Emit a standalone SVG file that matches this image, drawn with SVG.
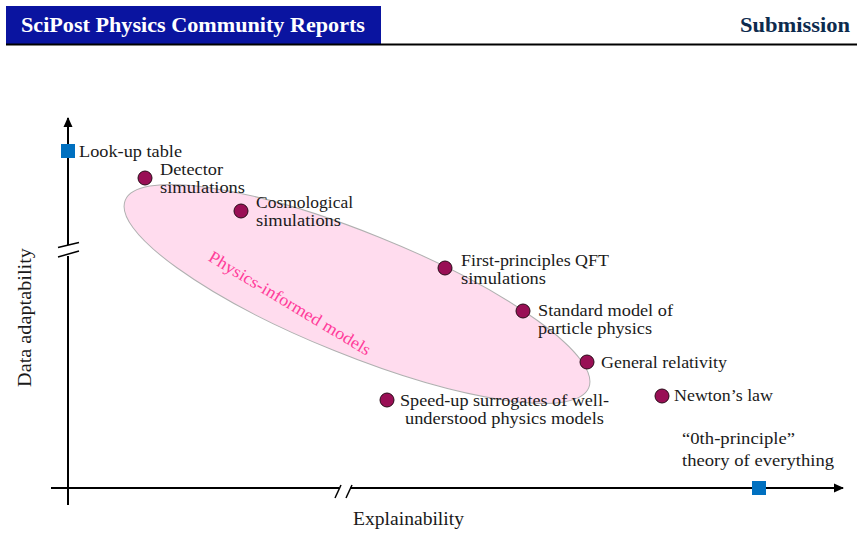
<svg xmlns="http://www.w3.org/2000/svg" width="863" height="535" viewBox="0 0 863 535">
<defs>
<style>
text{font-family:"Liberation Serif","DejaVu Serif",serif;font-size:16.3px;fill:#1a1a1a}
.hd{font-weight:bold;font-size:22px}
.big{font-size:19.5px}
.dot{fill:#990f55;stroke:#2a0a18;stroke-width:1}
.sq{fill:#0070c0}
.ax{stroke:#000;stroke-width:2;fill:none}
.brk{stroke:#000;stroke-width:1.5}
</style>
<marker id="arr" viewBox="0 0 10 10" refX="9" refY="5" markerWidth="10" markerHeight="10" markerUnits="userSpaceOnUse" orient="auto">
<path d="M0,0.5 L10,5 L0,9.5 z" fill="#000"/>
</marker>
</defs>
<rect width="863" height="535" fill="#fff"/>
<g id="header">
<rect x="6" y="6" width="375" height="38" fill="#0a14a0"/>
<text x="21" y="32" class="hd" style="fill:#fff" textLength="344" lengthAdjust="spacingAndGlyphs">SciPost Physics Community Reports</text>
<text x="850" y="32" class="hd" text-anchor="end" style="fill:#0d2b4e" textLength="110" lengthAdjust="spacingAndGlyphs">Submission</text>
<line x1="6" y1="44.5" x2="857" y2="44.5" stroke="#000" stroke-width="2"/>
</g>
<g id="ellipse">
<ellipse cx="357" cy="294" rx="250" ry="61" transform="rotate(22 357 294)" fill="#ffdcee" stroke="#b0b0b0" stroke-width="1"/>
<text x="287" y="308" transform="rotate(31 287 308)" text-anchor="middle" style="fill:#ff3d9a;font-size:17px" textLength="186" lengthAdjust="spacingAndGlyphs">Physics-informed models</text>
</g>
<g id="connectors">
<line class="ax" x1="68" y1="505" x2="68" y2="256" />
<line class="ax" x1="68" y1="245" x2="68" y2="118" marker-end="url(#arr)"/>
<line class="brk" x1="58" y1="247.5" x2="79" y2="242.5"/>
<line class="brk" x1="58" y1="257" x2="79" y2="251"/>
<line class="ax" x1="51" y1="488" x2="339" y2="488"/>
<line class="ax" x1="350" y1="488" x2="843" y2="488" marker-end="url(#arr)"/>
<line class="brk" x1="335" y1="498" x2="341" y2="485"/>
<line class="brk" x1="346" y1="498" x2="352" y2="485"/>
</g>
<g id="lookup">
<rect class="sq" x="61" y="144" width="14" height="14"/>
<text x="79" y="157" textLength="103" lengthAdjust="spacingAndGlyphs">Look-up table</text>
</g>
<g id="detector">
<circle class="dot" cx="145" cy="178" r="7"/>
<text x="160" y="175" textLength="63" lengthAdjust="spacingAndGlyphs">Detector</text>
<text x="160" y="193" textLength="85" lengthAdjust="spacingAndGlyphs">simulations</text>
</g>
<g id="cosmological">
<circle class="dot" cx="241" cy="211" r="7"/>
<text x="256" y="208" textLength="97" lengthAdjust="spacingAndGlyphs">Cosmological</text>
<text x="256" y="226" textLength="85" lengthAdjust="spacingAndGlyphs">simulations</text>
</g>
<g id="qft">
<circle class="dot" cx="445" cy="268" r="7"/>
<text x="461" y="266" textLength="148" lengthAdjust="spacingAndGlyphs">First-principles QFT</text>
<text x="461" y="284" textLength="85" lengthAdjust="spacingAndGlyphs">simulations</text>
</g>
<g id="sm">
<circle class="dot" cx="523" cy="311" r="7"/>
<text x="538" y="316" textLength="135" lengthAdjust="spacingAndGlyphs">Standard model of</text>
<text x="538" y="334" textLength="114" lengthAdjust="spacingAndGlyphs">particle physics</text>
</g>
<g id="gr">
<circle class="dot" cx="587" cy="362" r="7"/>
<text x="601" y="368" textLength="126" lengthAdjust="spacingAndGlyphs">General relativity</text>
</g>
<g id="speedup">
<circle class="dot" cx="387" cy="400" r="7"/>
<text x="400" y="406" textLength="209" lengthAdjust="spacingAndGlyphs">Speed-up surrogates of well-</text>
<text x="405" y="424" textLength="199" lengthAdjust="spacingAndGlyphs">understood physics models</text>
</g>
<g id="newton">
<circle class="dot" cx="662" cy="396" r="7"/>
<text x="674" y="401" textLength="99" lengthAdjust="spacingAndGlyphs">Newton’s law</text>
</g>
<g id="toe">
<rect class="sq" x="752" y="481" width="14" height="14"/>
<text x="682" y="444" textLength="113" lengthAdjust="spacingAndGlyphs">“0th-principle”</text>
<text x="682" y="466" textLength="152" lengthAdjust="spacingAndGlyphs">theory of everything</text>
</g>
<g id="labels">
<text x="353" y="525" class="big" textLength="111" lengthAdjust="spacingAndGlyphs">Explainability</text>
<text x="0" y="0" class="big" transform="translate(31 387) rotate(-90)" textLength="139" lengthAdjust="spacingAndGlyphs">Data adaptability</text>
</g>
</svg>
